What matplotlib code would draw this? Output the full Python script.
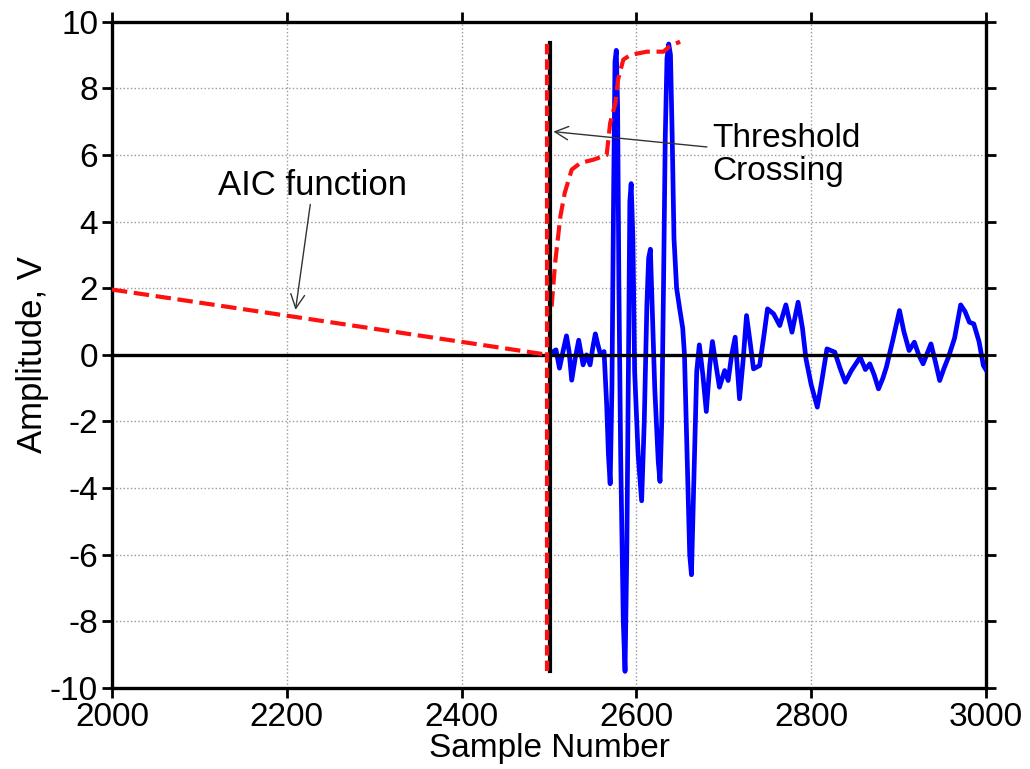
import matplotlib
matplotlib.use("Agg")
import matplotlib.pyplot as plt

plt.rcParams['font.family'] = ['Liberation Sans', 'DejaVu Sans']
plt.rcParams['axes.unicode_minus'] = False

# received signal (blue)
sig_x = [2502, 2505, 2508, 2512, 2516, 2520, 2523, 2526, 2530, 2534, 2537, 2539,
         2543, 2547, 2550, 2553, 2556, 2559, 2563, 2566, 2568, 2570, 2572, 2574,
         2575.5, 2577, 2578.5, 2580, 2582, 2585, 2587, 2589, 2591, 2592.5, 2594,
         2596, 2598, 2602, 2606, 2609, 2612, 2614, 2616, 2618, 2621, 2625, 2627,
         2629, 2631, 2633, 2635, 2637, 2639, 2641, 2643, 2646, 2650, 2653, 2655,
         2658, 2661, 2663, 2666, 2669, 2672, 2676, 2680, 2684, 2687, 2691, 2695,
         2701, 2705, 2709, 2713, 2718, 2722, 2726, 2730, 2734, 2741, 2746, 2750,
         2757, 2764, 2771, 2778, 2785, 2790, 2794, 2800, 2807, 2812, 2818, 2827,
         2833, 2839, 2846, 2856, 2862, 2867, 2872, 2877, 2882, 2886, 2893, 2901,
         2906, 2912, 2918, 2923, 2928, 2937, 2942, 2947, 2952, 2957, 2964, 2971,
         2976, 2981, 2986, 2992, 2997, 3000]
sig_y = [0.0, 0.1, 0.15, -0.4, 0.1, 0.57, 0.1, -0.76, -0.1, 0.44, 0.0, -0.3,
         0.0, -0.3, 0.2, 0.63, 0.3, 0.0, 0.1, -1.5, -3.0, -3.87, -1.0, 5.0,
         8.8, 9.14, 7.5, 2.0, -3.0, -8.0, -9.5, -6.0, 0.0, 4.6, 5.14, 3.5,
         -0.5, -3.0, -4.38, -2.0, 1.5, 2.9, 3.17, 1.5, -1.0, -3.2, -3.8,
         -2.0, 2.0, 6.5, 8.9, 9.33, 9.0, 6.5, 3.5, 2.0, 1.3, 0.8, 0.0,
         -3.0, -6.0, -6.6, -3.5, -0.5, 0.3, -0.6, -1.7, -0.3, 0.4, -0.3, -0.97,
         -0.47, -0.77, 0.0, 0.53, -1.32, -0.2, 1.18, 0.4, -0.42, -0.32, 0.6, 1.38,
         1.23, 0.88, 1.5, 0.68, 1.58, 0.8, -0.12, -0.9, -1.57, -0.8, 0.18, 0.08,
         -0.4, -0.82, -0.47, -0.07, -0.44, -0.27, -0.6, -1.02, -0.7, -0.37, 0.4, 1.33,
         0.7, 0.13, 0.38, 0.0, -0.27, 0.33, -0.2, -0.77, -0.4, -0.07, 0.5, 1.5,
         1.3, 0.98, 0.93, 0.4, -0.32, -0.45]

# AIC function (red dashed)
aic_x = [2000, 2250, 2499]
aic_y = [1.96, 0.98, 0.0]
aic2_x = [2503, 2507, 2513, 2518, 2526, 2536, 2551, 2566, 2570, 2576, 2579, 2585,
          2593, 2612, 2631, 2638, 2650]
aic2_y = [1.45, 2.75, 4.15, 4.86, 5.56, 5.76, 5.86, 6.0, 6.96, 7.56, 8.26, 8.86,
          9.0, 9.1, 9.1, 9.26, 9.4]

pick_x = 2501
aic_pick_x = 2498
pick_lo, pick_hi = -9.5, 9.35

fig = plt.figure(figsize=(10.3, 7.69), dpi=100)
ax = fig.add_axes([0.1087, 0.1053, 0.8486, 0.8665])

ax.plot(sig_x, sig_y, color='#0000ff', lw=3.4, zorder=3)
ax.axhline(0, color='black', lw=2.4, zorder=4)
ax.plot(aic_x, aic_y, color='#ff1010', lw=3, ls='--', zorder=5)
ax.plot(aic2_x, aic2_y, color='#ff1010', lw=3, ls='--', zorder=5)
ax.plot([pick_x, pick_x], [pick_lo, pick_hi], color='black', lw=3, zorder=5)
ax.plot([aic_pick_x, aic_pick_x], [pick_lo, pick_hi], color='#ff1010', lw=3,
        ls=(0, (2.5, 1.2)), zorder=6)

ax.set_xlim(2000, 3000)
ax.set_ylim(-10, 10)
ax.set_xticks(range(2000, 3001, 200))
ax.set_yticks(range(-10, 11, 2))
ax.grid(True, ls=':', color='#999999', lw=1)
ax.tick_params(direction='out', length=7, width=2, labelsize=24,
               top=True, right=True, pad=3)
for s in ax.spines.values():
    s.set_linewidth(2.4)

ax.set_xlabel('Sample Number', fontsize=24, labelpad=0)
ax.set_ylabel('Amplitude, V', fontsize=25)
ax.yaxis.set_label_coords(-0.072, 0.5)

ax.annotate('AIC function', xy=(2210, 1.35), xytext=(2217, 4.6),
            fontsize=25, ha='center', va='bottom', alpha=1,
            arrowprops=dict(arrowstyle='->', color='#333333', lw=1,
                            shrinkA=0, shrinkB=0))
ax.texts[-1].set_position((2230, 4.6))
ax.annotate('Threshold\nCrossing', xy=(2505, 6.7), xytext=(2687, 6.0),
            fontsize=24, ha='left', va='center', linespacing=1.05,
            arrowprops=dict(arrowstyle='->', color='#333333', lw=1,
                            shrinkA=2, shrinkB=0))

fig.savefig('out.png', dpi=100)
